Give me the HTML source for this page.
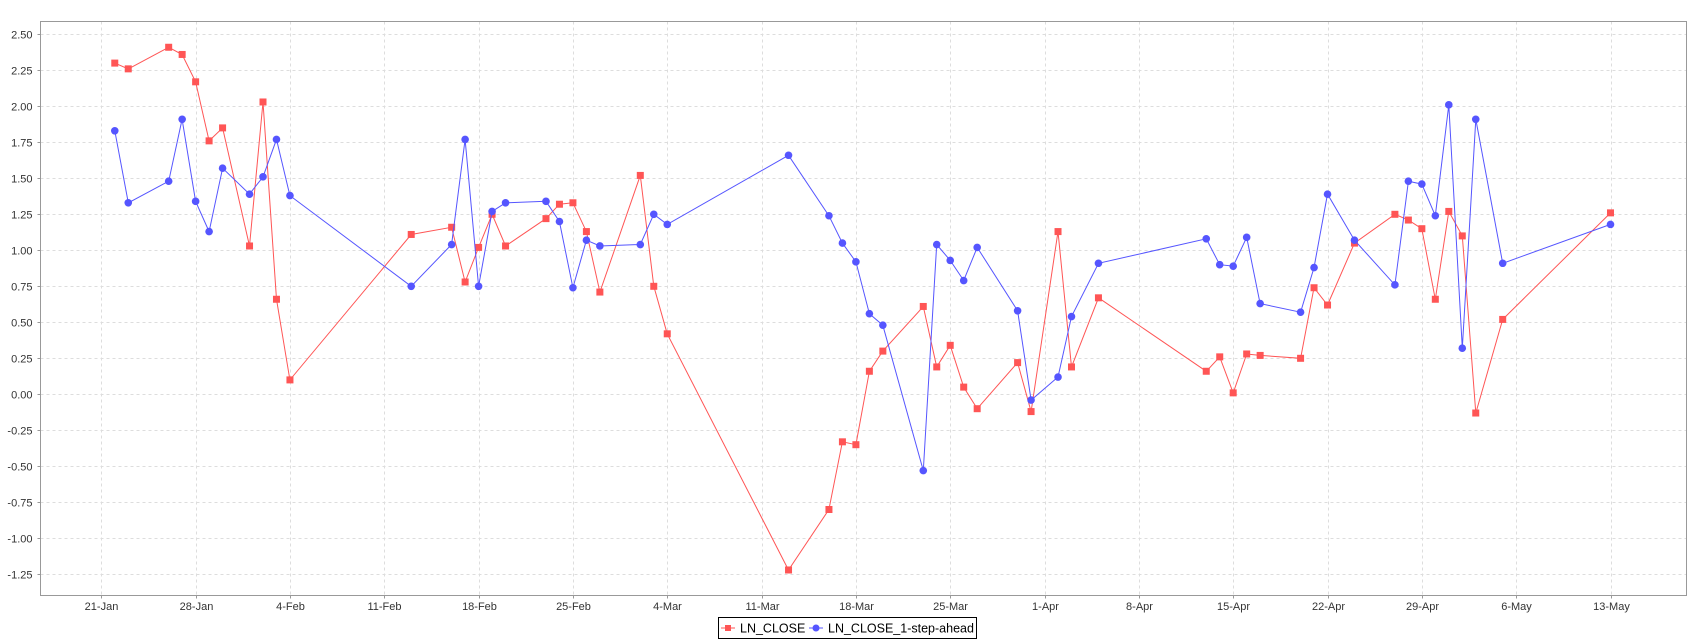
<!DOCTYPE html>
<html><head><meta charset="utf-8"><style>
body{margin:0;background:#fff;}
svg{display:block;font-family:"Liberation Sans",sans-serif;}
</style></head><body>
<svg id="chart" width="1694" height="641" xmlns="http://www.w3.org/2000/svg">
<rect x="0" y="0" width="1694" height="641" fill="#fff"/>
<g id="grid"></g>
<g id="yaxis"></g>
<g id="xaxis"></g>
<g id="series"></g>
<rect x="40.5" y="21.5" width="1646" height="574" fill="none" stroke="#999"/>
<g>
<rect x="718.5" y="617.5" width="258" height="21" fill="#fff" stroke="#000"/>
<g>
<line x1="721" y1="628" x2="735" y2="628" stroke="#ff5555"/>
<rect x="725" y="625" width="6" height="6" fill="#ff5555"/>
<text x="740" y="632.5" font-size="12.5" fill="#000">LN_CLOSE</text>
</g>
<g>
<line x1="809" y1="628" x2="823" y2="628" stroke="#5555ff"/>
<circle cx="816" cy="628" r="3.5" fill="#5555ff"/>
<text x="828" y="632.5" font-size="12.5" fill="#000">LN_CLOSE_1-step-ahead</text>
</g>
</g>
</svg>
<script>
const redDays=[1,2,5,6,7,8,9,11,12,13,14,23,26,27,28,29,30,33,34,35,36,37,40,41,42,51,54,55,56,57,58,61,62,63,64,65,68,69,71,72,74,82,83,84,85,86,89,90,91,93,96,97,98,99,100,101,102,104,112];
const redVals=[2.30,2.26,2.41,2.36,2.17,1.76,1.85,1.03,2.03,0.66,0.10,1.11,1.16,0.78,1.02,1.25,1.03,1.22,1.32,1.33,1.13,0.71,1.52,0.75,0.42,-1.22,-0.80,-0.33,-0.35,0.16,0.30,0.61,0.19,0.34,0.05,-0.10,0.22,-0.12,1.13,0.19,0.67,0.16,0.26,0.01,0.28,0.27,0.25,0.74,0.62,1.05,1.25,1.21,1.15,0.66,1.27,1.10,-0.13,0.52,1.26];
const blueDays=[1,2,5,6,7,8,9,11,12,13,14,23,26,27,28,29,30,33,34,35,36,37,40,41,42,51,54,55,56,57,58,61,62,63,64,65,68,69,71,72,74,82,83,84,85,86,89,90,91,93,96,97,98,99,100,101,102,104,112];
const blueVals=[1.83,1.33,1.48,1.91,1.34,1.13,1.57,1.39,1.51,1.77,1.38,0.75,1.04,1.77,0.75,1.27,1.33,1.34,1.20,0.74,1.07,1.03,1.04,1.25,1.18,1.66,1.24,1.05,0.92,0.56,0.48,-0.53,1.04,0.93,0.79,1.02,0.58,-0.04,0.12,0.54,0.91,1.08,0.90,0.89,1.09,0.63,0.57,0.88,1.39,1.07,0.76,1.48,1.46,1.24,2.01,0.32,1.91,0.91,1.18];
const xTickLabels=["21-Jan","28-Jan","4-Feb","11-Feb","18-Feb","25-Feb","4-Mar","11-Mar","18-Mar","25-Mar","1-Apr","8-Apr","15-Apr","22-Apr","29-Apr","6-May","13-May"];
const yTicks=[-1.25,-1,-0.75,-0.5,-0.25,0,0.25,0.5,0.75,1,1.25,1.5,1.75,2,2.25,2.5];

const NS="http://www.w3.org/2000/svg";
const L=40.5,R=1686.5,T=21.5,B=595.5;
function xs(d){return 101.3+d*13.475;}
function ys(v){return 34.3+(2.5-v)*144;}
function mk(tag,attrs,parent){const e=document.createElementNS(NS,tag);for(const k in attrs)e.setAttribute(k,attrs[k]);parent.appendChild(e);return e;}
const grid=document.getElementById('grid'),ya=document.getElementById('yaxis'),xa=document.getElementById('xaxis'),ser=document.getElementById('series');
yTicks.forEach(v=>{
  const y=Math.round(ys(v))+0.5;
  const g=mk('line',{x1:L,x2:R,y1:y,y2:y,stroke:'#ddd','stroke-dasharray':'3,3'},grid);
  
  
  mk('line',{x1:L-3,x2:L,y1:y,y2:y,stroke:'#999'},ya);
  const t=mk('text',{x:L-8,y:y+4,'font-size':'11','text-anchor':'end',fill:'#333'},ya);
  
  
  t.textContent=v.toFixed(2);
});
xTickLabels.forEach((lab,i)=>{
  const x=Math.round(xs(i*7))+0.5;
  const g=mk('line',{x1:x,x2:x,y1:T,y2:B,stroke:'#ddd','stroke-dasharray':'3,3'},grid);
  
  
  mk('line',{x1:x,x2:x,y1:B,y2:B+3,stroke:'#999'},xa);
  const t=mk('text',{x:x,y:610,'font-size':'11','text-anchor':'middle',fill:'#333'},xa);
  
  
  t.textContent=lab;
});
function drawSeries(days,vals,color,shape,name){
  const g=mk('g',{},ser);
  
  
  const pts=days.map((d,i)=>xs(d).toFixed(1)+','+ys(vals[i]).toFixed(1)).join(' ');
  const pl=mk('polyline',{points:pts,fill:'none',stroke:color,'stroke-width':'1'},g);
  
  
  days.forEach((d,i)=>{
    const x=xs(d),y=ys(vals[i]);
    let m;
    if(shape==='sq') m=mk('rect',{x:x-3.5,y:y-3.5,width:7,height:7,fill:color},g);
    else m=mk('circle',{cx:x,cy:y,r:3.8,fill:color},g);
    
    
  });
}
drawSeries(redDays,redVals,'#ff5555','sq','ln-close');
drawSeries(blueDays,blueVals,'#5555ff','ci','ln-close-1-step-ahead');
</script>
</body></html>
